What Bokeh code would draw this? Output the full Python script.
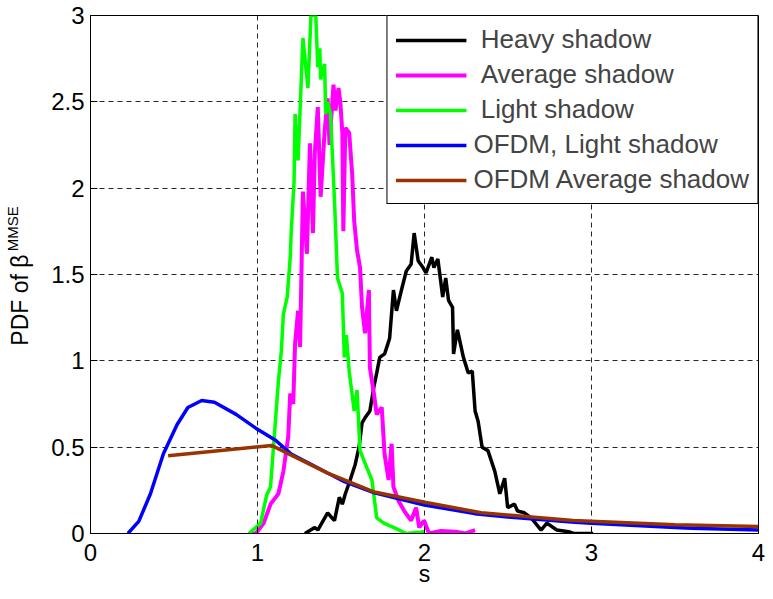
from bokeh.plotting import figure
from bokeh.models import Range1d, FixedTicker, Legend, LegendItem, NumeralTickFormatter, LinearAxis
from bokeh.embed import file_html
from bokeh.resources import INLINE

# ---- data ----
heavy_x = [1.284, 1.343, 1.361, 1.420, 1.437, 1.461, 1.490, 1.508, 1.526, 1.555, 1.585, 1.608, 1.626,
           1.644, 1.673, 1.697, 1.714, 1.732, 1.761, 1.791, 1.814, 1.832, 1.862, 1.891, 1.920, 1.938,
           1.962, 1.991, 2.009, 2.044, 2.056, 2.080, 2.109, 2.127, 2.144, 2.168, 2.174, 2.197, 2.233,
           2.262, 2.286, 2.303, 2.321, 2.345, 2.380, 2.421, 2.451, 2.480, 2.498, 2.539, 2.557, 2.598,
           2.639, 2.698, 2.733, 2.792, 2.863, 2.893, 3.010]
heavy_y = [0.0, 0.035, 0.02, 0.12, 0.10, 0.075, 0.21, 0.17, 0.23, 0.31, 0.40, 0.50, 0.64,
           0.67, 0.71, 0.85, 0.93, 1.02, 1.04, 1.13, 1.41, 1.29, 1.41, 1.52, 1.56, 1.74,
           1.58, 1.54, 1.51, 1.60, 1.54, 1.59, 1.37, 1.48, 1.35, 1.31, 1.04, 1.18, 1.02,
           0.93, 0.94, 0.71, 0.65, 0.50, 0.48, 0.36, 0.23, 0.32, 0.15, 0.17, 0.13, 0.12,
           0.09, 0.02, 0.06, 0.02, 0.01, 0.0, 0.0]

avg_x = [0.948, 0.990, 1.037, 1.078, 1.125, 1.155, 1.184, 1.196, 1.214, 1.225, 1.243, 1.255, 1.272,
         1.296, 1.314, 1.332, 1.343, 1.361, 1.378, 1.402, 1.420, 1.431, 1.455, 1.467, 1.485, 1.496,
         1.508, 1.514, 1.526, 1.549, 1.567, 1.579, 1.596, 1.614, 1.626, 1.644, 1.667, 1.673, 1.697,
         1.714, 1.744, 1.761, 1.785, 1.803, 1.814, 1.844, 1.879, 1.920, 1.950, 1.968, 1.997, 2.027,
         2.097, 2.186, 2.245, 2.303]
avg_y = [0.0, 0.0, 0.06, 0.17, 0.23, 0.36, 0.56, 0.81, 0.75, 1.10, 1.29, 1.08, 1.98,
         1.62, 2.26, 1.74, 2.20, 2.47, 1.95, 2.33, 2.52, 2.25, 2.60, 2.45, 2.58, 2.50,
         2.32, 1.75, 2.35, 2.32, 2.08, 1.81, 1.64, 1.54, 1.31, 1.16, 1.41, 0.96, 0.81,
         0.69, 0.73, 0.46, 0.31, 0.52, 0.27, 0.19, 0.13, 0.075, 0.15, 0.035, 0.075, 0.0,
         0.015, 0.01, 0.0, 0.02]

light_x = [0.948, 1.019, 1.054, 1.078, 1.125, 1.143, 1.155, 1.178, 1.196, 1.202, 1.219, 1.225, 1.243,
           1.272, 1.302, 1.320, 1.349, 1.361, 1.373, 1.378, 1.402, 1.408, 1.420, 1.437, 1.461, 1.479,
           1.508, 1.520, 1.532, 1.549, 1.579, 1.596, 1.614, 1.655, 1.685, 1.714, 1.756, 1.814, 1.891,
           2.000]
light_y = [0.0, 0.06, 0.22, 0.27, 0.88, 1.06, 1.27, 1.37, 1.60, 1.75, 2.04, 2.43, 2.16,
           2.87, 2.58, 3.00, 3.00, 2.70, 2.81, 2.63, 2.72, 2.43, 2.50, 2.43, 1.93, 1.48,
           1.39, 1.02, 1.15, 0.94, 0.71, 0.83, 0.48, 0.38, 0.31, 0.09, 0.06, 0.035, 0.0,
           0.01]

ofdm_light_x = [0.224, 0.289, 0.359, 0.436, 0.518, 0.583, 0.666, 0.742, 0.872, 0.990, 1.108, 1.202,
                1.420, 1.520, 1.700, 2.000, 2.300, 2.500, 2.900, 3.000, 3.500, 3.600, 4.000]
ofdm_light_y = [0.0, 0.07, 0.23, 0.46, 0.63, 0.73, 0.77, 0.76, 0.69, 0.61, 0.54, 0.46,
                0.35, 0.30, 0.235, 0.165, 0.115, 0.095, 0.065, 0.06, 0.035, 0.03, 0.02]

ofdm_avg_x = [0.465, 1.084, 1.420, 1.520, 1.700, 2.010, 2.340, 2.890, 3.500, 4.000]
ofdm_avg_y = [0.45, 0.51, 0.35, 0.31, 0.24, 0.18, 0.12, 0.075, 0.05, 0.04]

x_ticks = [0, 1, 2, 3, 4]
y_ticks = [0, 0.5, 1, 1.5, 2, 2.5, 3]
legend_labels = ["\u00a0Heavy shadow", "\u00a0Average shadow", "\u00a0Light shadow",
                 "OFDM, Light shadow", "OFDM Average shadow"]
y_label_main = "PDF of \u03b2"
y_label_sup = "MMSE"
x_label = "s"

FONT = "Liberation Sans"
NB = "\u00a0"

p = figure(width=765, height=591, x_range=Range1d(0, 4), y_range=Range1d(0, 3),
           output_backend="svg", toolbar_location=None,
           min_border_left=89, min_border_right=7, min_border_top=15, min_border_bottom=58)
p.background_fill_color = "white"
p.border_fill_color = "white"
p.outline_line_color = "black"
p.outline_line_width = 1

for ax in (p.xaxis, p.yaxis):
    ax.major_tick_in = 7
    ax.major_tick_out = 0
    ax.minor_tick_in = 0
    ax.minor_tick_out = 0
    ax.axis_line_color = "black"
    ax.major_tick_line_color = "black"
    ax.major_label_text_font = FONT
    ax.major_label_text_font_size = "24px"
    ax.major_label_text_color = "black"
    ax.formatter = NumeralTickFormatter(format="0.[0]")
    ax.axis_label_text_font = FONT
    ax.axis_label_text_font_size = "23px"
    ax.axis_label_text_font_style = "normal"
    ax.axis_label_text_color = "black"

p.xaxis.ticker = FixedTicker(ticks=x_ticks)
p.yaxis.ticker = FixedTicker(ticks=y_ticks)
p.xaxis.major_label_standoff = 10
p.yaxis.major_label_standoff = 6
p.xaxis.axis_label = x_label
p.xaxis.axis_label_standoff = -3
# main part of the y label, padded so the whole "PDF of β^MMSE" is centred
p.yaxis.axis_label = y_label_main + NB * 8
p.yaxis.axis_label_standoff = 15

# superscript part of the y label on an invisible extra axis
sup_axis = LinearAxis(ticker=FixedTicker(ticks=[]), axis_line_color=None,
                      major_tick_in=0, major_tick_out=0, minor_tick_in=0, minor_tick_out=0,
                      major_label_text_font_size="0px",
                      axis_label=NB * 22 + y_label_sup, axis_label_text_font=FONT,
                      axis_label_text_font_size="15px", axis_label_text_font_style="normal",
                      axis_label_text_color="black", axis_label_standoff=-16)
p.add_layout(sup_axis, "left")

p.grid.grid_line_color = "black"
p.grid.grid_line_dash = "5 4"
p.grid.grid_line_alpha = 0.85
p.grid.grid_line_width = 1

r1 = p.line(heavy_x, heavy_y, line_color="#000000", line_width=3.5)
r2 = p.line(avg_x, avg_y, line_color="#ff00ff", line_width=4)
r3 = p.line(light_x, light_y, line_color="#00ff00", line_width=3.5)
r4 = p.line(ofdm_light_x, ofdm_light_y, line_color="#0000ff", line_width=3.5)
r5 = p.line(ofdm_avg_x, ofdm_avg_y, line_color="#993300", line_width=3.5)

legend = Legend(items=[LegendItem(label=l, renderers=[r]) for l, r in zip(legend_labels, [r1, r2, r3, r4, r5])],
                location="top_right", margin=0, padding=8, spacing=4,
                glyph_width=71, glyph_height=28, label_height=28, label_standoff=7,
                label_text_font=FONT, label_text_font_size="26px",
                border_line_color="black", border_line_width=1, border_line_alpha=1,
                background_fill_color="white", background_fill_alpha=1)
p.add_layout(legend)

open("out.html", "w").write(file_html(p, INLINE))
